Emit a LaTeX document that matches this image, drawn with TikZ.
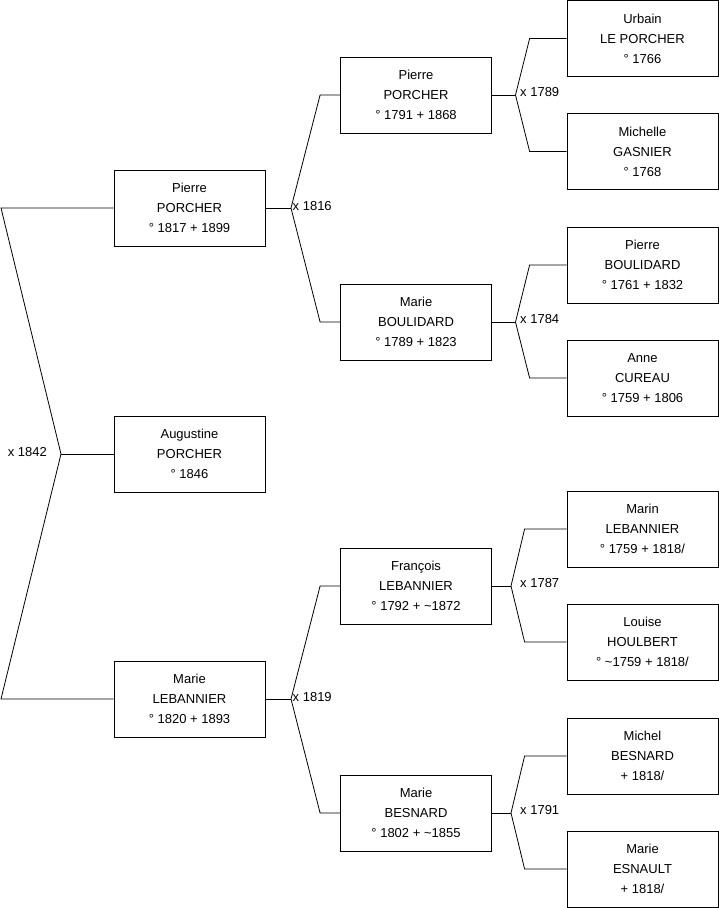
\documentclass[tikz,border=0pt]{standalone}
\usepackage{fontspec}
\setmainfont{Liberation Sans}
\begin{document}
\begin{tikzpicture}[x=1pt,y=-1pt,
  person/.style={draw, line width=0.8pt, minimum width=151pt, minimum height=76pt, align=center, inner sep=0pt, font=\fontsize{13}{20}\selectfont},
  link/.style={line width=0.8pt},
  mar/.style={font=\fontsize{13}{15}\selectfont, inner sep=0pt}]
\useasboundingbox (0,0) rectangle (719,908);
% generation 1
\node[person] (g1a) at (189.5,208) {Pierre\\PORCHER\\° 1817 + 1899};
\node[person] (g1b) at (189.5,454) {Augustine\\PORCHER\\° 1846};
\node[person] (g1c) at (189.5,699) {Marie\\LEBANNIER\\° 1820 + 1893};
% generation 2
\node[person] (g2a) at (416,95) {Pierre\\PORCHER\\° 1791 + 1868};
\node[person] (g2b) at (416,322) {Marie\\BOULIDARD\\° 1789 + 1823};
\node[person] (g2c) at (416,586) {François\\LEBANNIER\\° 1792 + \textasciitilde1872};
\node[person] (g2d) at (416,813) {Marie\\BESNARD\\° 1802 + \textasciitilde1855};
% generation 3
\node[person] (g3a) at (642.5,38.5) {Urbain\\LE PORCHER\\° 1766};
\node[person] (g3b) at (642.5,151.5) {Michelle\\GASNIER\\° 1768};
\node[person] (g3c) at (642.5,265) {Pierre\\BOULIDARD\\° 1761 + 1832};
\node[person] (g3d) at (642.5,378) {Anne\\CUREAU\\° 1759 + 1806};
\node[person] (g3e) at (642.5,529) {Marin\\LEBANNIER\\° 1759 + 1818/};
\node[person] (g3f) at (642.5,642) {Louise\\HOULBERT\\° \textasciitilde1759 + 1818/};
\node[person] (g3g) at (642.5,756) {Michel\\BESNARD\\+ 1818/};
\node[person] (g3h) at (642.5,869) {Marie\\ESNAULT\\+ 1818/};
% level 0 junction
\coordinate (j0) at (61,454);
\coordinate (c0a) at (1,208);
\coordinate (c0c) at (1,699);
\draw[link] (g1a.west) -- (c0a) -- (j0) -- (c0c) -- (g1c.west);
\draw[link] (j0) -- (g1b.west);
\node[mar, anchor=east] at (47,452) {x 1842};
% level 1 junctions
\coordinate (j1a) at (291,208);
\draw[link] (g1a.east) -- (j1a);
\draw[link] (g2a.west) -- ([xshift=-20pt]g2a.west) -- (j1a) -- ([xshift=-20pt]g2b.west) -- (g2b.west);
\node[mar, anchor=west] at (292.5,206) {x 1816};
\coordinate (j1c) at (291,699);
\draw[link] (g1c.east) -- (j1c);
\draw[link] (g2c.west) -- ([xshift=-20pt]g2c.west) -- (j1c) -- ([xshift=-20pt]g2d.west) -- (g2d.west);
\node[mar, anchor=west] at (292.5,697) {x 1819};
% level 2 junctions
\coordinate (j2a) at (515.5,95);
\draw[link] (g2a.east) -- (j2a);
\draw[link] (g3a.west) -- ([xshift=-37pt]g3a.west) -- (j2a) -- ([xshift=-37pt]g3b.west) -- (g3b.west);
\node[mar, anchor=west] at (520,92.5) {x 1789};
\coordinate (j2b) at (515.5,322);
\draw[link] (g2b.east) -- (j2b);
\draw[link] (g3c.west) -- ([xshift=-37pt]g3c.west) -- (j2b) -- ([xshift=-37pt]g3d.west) -- (g3d.west);
\node[mar, anchor=west] at (520,319.5) {x 1784};
\coordinate (j2c) at (511,586);
\draw[link] (g2c.east) -- (j2c);
\draw[link] (g3e.west) -- ([xshift=-42pt]g3e.west) -- (j2c) -- ([xshift=-42pt]g3f.west) -- (g3f.west);
\node[mar, anchor=west] at (520,583.5) {x 1787};
\coordinate (j2d) at (511,813);
\draw[link] (g2d.east) -- (j2d);
\draw[link] (g3g.west) -- ([xshift=-42pt]g3g.west) -- (j2d) -- ([xshift=-42pt]g3h.west) -- (g3h.west);
\node[mar, anchor=west] at (520,810.5) {x 1791};
\end{tikzpicture}
\end{document}
